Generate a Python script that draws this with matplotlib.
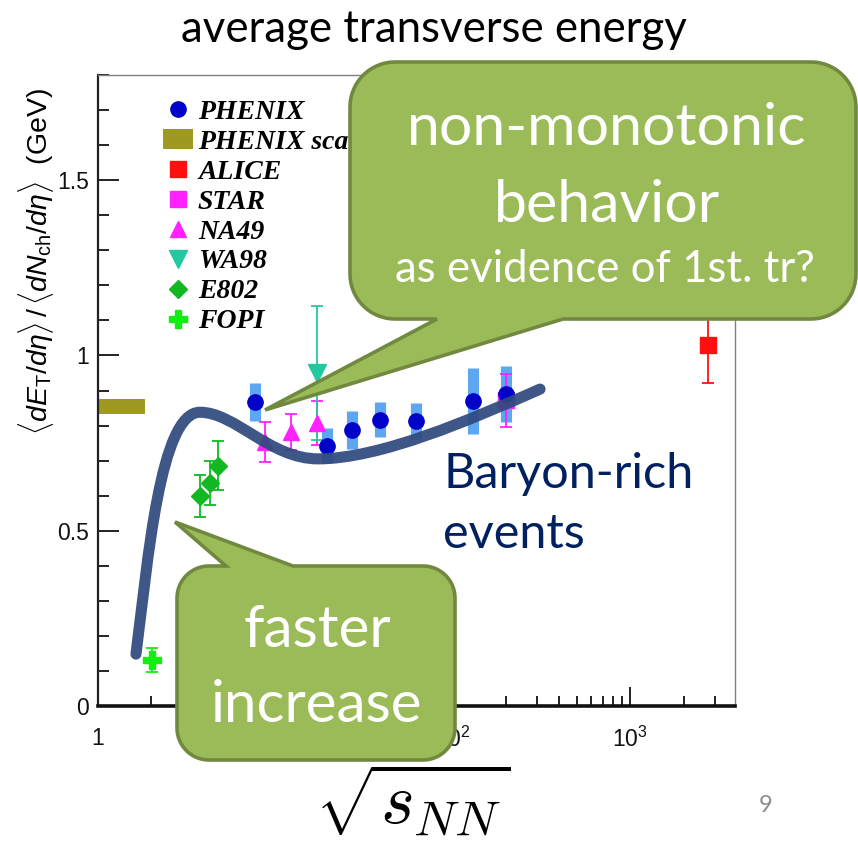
import numpy as np
import matplotlib
matplotlib.use("Agg")
import matplotlib.pyplot as plt
import matplotlib.transforms as mtransforms
from matplotlib.path import Path
from matplotlib.patches import PathPatch, Patch
from matplotlib.lines import Line2D
from matplotlib.font_manager import FontProperties
from matplotlib.ticker import (MultipleLocator, LogLocator, FixedLocator,
                               FixedFormatter, NullFormatter)

plt.rcParams["font.family"] = ["Liberation Sans", "DejaVu Sans"]
plt.rcParams["mathtext.fontset"] = "custom"
plt.rcParams["mathtext.rm"] = "Liberation Sans"
plt.rcParams["mathtext.it"] = "Liberation Sans:italic"
plt.rcParams["mathtext.bf"] = "Liberation Sans:bold"

# ---- data: <dE_T/deta>/<dN_ch/deta> (GeV) vs sqrt(s_NN) (GeV) ----
phenix_x = [7.7, 19.6, 27.0, 39.0, 62.4, 130.0, 200.0]
phenix_y = [0.867, 0.742, 0.787, 0.816, 0.813, 0.870, 0.890]
phenix_sys = [0.053, 0.050, 0.055, 0.050, 0.050, 0.093, 0.080]

phenix_scaled_x = [1.0, 1.84]
phenix_scaled_lo = [0.832, 0.832]
phenix_scaled_hi = [0.875, 0.875]

alice_x = [2760.0]
alice_y = [1.030]
alice_err = [0.110]

star_x = [200.0]
star_y = [0.872]
star_err = [0.075]

na49_x = [8.8, 12.3, 17.3]
na49_y = [0.753, 0.782, 0.807]
na49_err = [0.058, 0.052, 0.062]

wa98_x = [17.3]
wa98_y = [0.950]
wa98_err = [0.190]

e802_x = [3.8, 4.3, 4.8]
e802_y = [0.599, 0.636, 0.685]
e802_err = [0.060, 0.063, 0.070]

fopi_x = [2.02]
fopi_y = [0.131]
fopi_err = [0.035]

# hand-drawn trend curve (cubic Bezier vertices in data coordinates)
curve_x = [1.647, 1.925, 2.249, 3.780, 5.953, 9.372, 17.47, 39.04, 125.5, 311.2]
curve_y = [0.148, 0.416, 0.838, 0.838, 0.838, 0.705, 0.705, 0.705, 0.816, 0.904]

x_ticks = [1, 10, 100, 1000]
x_ticklabels = ["1", "10", r"$\mathregular{10^{2}}$", r"$\mathregular{10^{3}}$"]
y_ticks = [0, 0.5, 1.0, 1.5]
y_ticklabels = ["0", "0.5", "1", "1.5"]

legend_labels = ["PHENIX", "PHENIX scaled", "ALICE", "STAR", "NA49", "WA98",
                 "E802", "FOPI"]

# ---- colours ----
c_phenix = "#0000c8"
c_phenix_sys = "#4b9cf0"
c_olive = "#9f9822"
c_alice = "#ff1010"
c_star = "#ff22ff"
c_na49 = "#ff22ff"
c_wa98 = "#22c9a0"
c_e802 = "#11b822"
c_fopi = "#11ee11"
c_curve = "#2f4a7d"
c_fill = "#9bbb59"
c_edge = "#71893f"

W, H = 858, 841
fig = plt.figure(figsize=(W / 100, H / 100), dpi=100)
# pixel coordinates with the origin at the top-left corner of the figure
px = mtransforms.Affine2D().scale(1 / W, -1 / H).translate(0, 1) + fig.transFigure

ax = fig.add_axes([97.5 / W, 1 - 706 / H, (735 - 97.5) / W, (706 - 75) / H])
ax.set_xscale("log")

ax.fill_between(phenix_scaled_x, phenix_scaled_lo, phenix_scaled_hi,
                color=c_olive, lw=0, zorder=2)

ax.errorbar(phenix_x, phenix_y, yerr=phenix_sys, fmt="none",
            ecolor=c_phenix_sys, elinewidth=8, capsize=0, alpha=0.9, zorder=2)

eb = dict(capsize=4, elinewidth=1.3, capthick=1.3, zorder=3)
ax.errorbar(na49_x, na49_y, yerr=na49_err, fmt="^", color=c_na49, ms=12, **eb)
ax.errorbar(wa98_x, wa98_y, yerr=wa98_err, fmt="v", color=c_wa98, ms=13, **eb)
ax.errorbar(e802_x, e802_y, yerr=e802_err, fmt="D", color=c_e802, ms=9, **eb)
ax.errorbar(fopi_x, fopi_y, yerr=fopi_err, fmt="P", color=c_fopi, ms=13, **eb)
ax.errorbar(alice_x, alice_y, yerr=alice_err, fmt="s", color=c_alice, ms=11, **eb)
ax.errorbar(star_x, star_y, yerr=star_err, fmt="s", color=c_star, ms=11, **eb)
ax.plot(phenix_x, phenix_y, "o", color=c_phenix, ms=11, zorder=4)

codes = [Path.MOVETO] + [Path.CURVE4] * (len(curve_x) - 1)
trend = PathPatch(Path(np.column_stack([curve_x, curve_y]), codes),
                  transform=ax.transData, fill=False, lw=8, ec=c_curve,
                  capstyle="round", joinstyle="round", alpha=0.93, zorder=6)
ax.add_patch(trend)

ax.set_xlim(1, 3900)
ax.set_ylim(0, 1.8)

# ---- axes styling ----
ax.xaxis.set_major_locator(FixedLocator(x_ticks))
ax.xaxis.set_major_formatter(FixedFormatter(x_ticklabels))
ax.xaxis.set_minor_locator(LogLocator(base=10, subs=np.arange(2, 10), numticks=20))
ax.xaxis.set_minor_formatter(NullFormatter())
ax.yaxis.set_major_locator(FixedLocator(y_ticks))
ax.yaxis.set_major_formatter(FixedFormatter(y_ticklabels))
ax.yaxis.set_minor_locator(MultipleLocator(0.1))

ax.tick_params(axis="both", which="both", direction="in", top=False, right=False,
               colors="#111111", labelsize=16.5)
ax.tick_params(axis="y", which="major", length=15, width=1.3, pad=6)
ax.tick_params(axis="y", which="minor", length=8, width=1.3)
ax.tick_params(axis="x", which="major", length=14, width=1.3, pad=15)
ax.tick_params(axis="x", which="minor", length=7, width=1.3)

for s in ("top", "right"):
    ax.spines[s].set_color("#808080")
    ax.spines[s].set_linewidth(1.0)
ax.spines["left"].set_color("#222222")
ax.spines["left"].set_linewidth(1.6)
ax.spines["bottom"].set_color("#111111")
ax.spines["bottom"].set_linewidth(2.6)

# ---- legend ----
handles = [
    Line2D([], [], marker="o", ls="none", color=c_phenix, ms=11),
    Patch(facecolor=c_olive, edgecolor="none"),
    Line2D([], [], marker="s", ls="none", color=c_alice, ms=11),
    Line2D([], [], marker="s", ls="none", color=c_star, ms=11),
    Line2D([], [], marker="^", ls="none", color=c_na49, ms=12),
    Line2D([], [], marker="v", ls="none", color=c_wa98, ms=13),
    Line2D([], [], marker="D", ls="none", color=c_e802, ms=9),
    Line2D([], [], marker="P", ls="none", color=c_fopi, ms=13),
]
ax.legend(handles, legend_labels, loc="upper left",
          bbox_to_anchor=(0.1027, 0.9610), frameon=False,
          prop=FontProperties(family="Liberation Serif", weight="bold",
                              style="italic", size=20),
          handlelength=1.08, handletextpad=0.18, labelspacing=0.16,
          borderpad=0, borderaxespad=0)

# ---- axis titles ----
fig.text(36, 262, r"$\langle dE_{\mathrm{T}}/d\eta\rangle\,/\,\langle dN_{\mathrm{ch}}/d\eta\rangle$  (GeV)",
         transform=px, rotation=90, ha="center", va="center", fontsize=20.5)
fig.text(413, 839, r"$\sqrt{s_{NN}}$", transform=px, ha="center", va="bottom",
         fontsize=52, math_fontfamily="cm")
fig.text(434, 42, "average transverse energy", transform=px, ha="center",
         va="baseline", fontsize=31.5, family="Lato")
fig.text(766, 812, "9", transform=px, ha="center", va="baseline",
         fontsize=17, color="#8c8c8c", family="Lato")


# ---- speech-bubble callouts ----
def bubble(x0, y0, x1, y1, r, side, base_a, base_b, tip, n=16):
    pts = [(x0 + r, y0)]
    if side == "top":
        pts += [(base_a, y0), tip, (base_b, y0)]

    def arc(cx, cy, a0, a1):
        a = np.radians(np.linspace(a0, a1, n))
        return list(zip(cx + r * np.cos(a), cy + r * np.sin(a)))

    pts += arc(x1 - r, y0 + r, -90, 0)
    pts += arc(x1 - r, y1 - r, 0, 90)
    if side == "bottom":
        pts += [(base_b, y1), tip, (base_a, y1)]
    pts += arc(x0 + r, y1 - r, 90, 180)
    pts += arc(x0 + r, y0 + r, 180, 270)
    pts.append(pts[0])
    return Path(pts, closed=True)


fig.add_artist(PathPatch(bubble(350, 62, 856, 319, 45, "bottom", 437, 563, (265, 410)),
                         transform=px, fc=c_fill, ec=c_edge, lw=2.6, zorder=10))
fig.add_artist(PathPatch(bubble(177, 566, 455, 760, 32, "top", 226, 293, (175, 522)),
                         transform=px, fc=c_fill, ec=c_edge, lw=2.6, zorder=10))

tk = dict(transform=px, ha="center", va="baseline", color="white", family="Lato",
          zorder=11)
fig.text(607, 145, "non-monotonic", fontsize=42.5, **tk)
fig.text(607, 222, "behavior", fontsize=42.5, **tk)
fig.text(605, 282, "as evidence of 1st. tr?", fontsize=31.5, **tk)
fig.text(317, 647, "faster", fontsize=42, **tk)
fig.text(317, 722, "increase", fontsize=42, **tk)

bk = dict(transform=px, ha="left", va="baseline", color="#002060", family="Lato",
          fontsize=35, zorder=9)
fig.text(443, 488, "Baryon-rich", **bk)
fig.text(443, 548, "events", **bk)

fig.savefig("out.png", dpi=100)
